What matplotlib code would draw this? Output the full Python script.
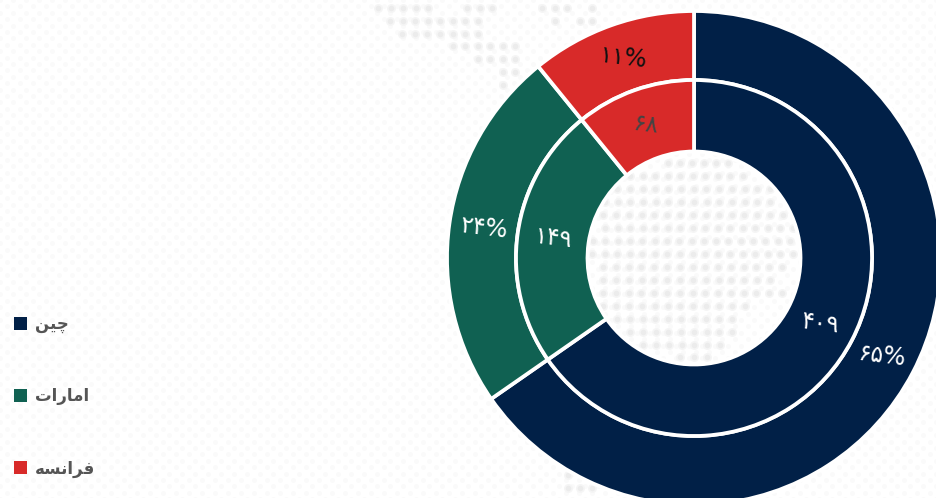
"""Double doughnut of three countries over a dotted map background."""
import matplotlib
matplotlib.use("Agg")
import matplotlib.pyplot as plt
import numpy as np
from matplotlib.patches import Patch

W, H = 936, 498

countries = ["چین", "امارات", "فرانسه"]
counts = [409, 149, 68]
shares = [65, 24, 11]
colors = ["#012047", "#106152", "#d82a29"]
outer_text_colors = ["white", "white", "#111111"]
inner_text_colors = ["white", "white", "#444444"]

# background map dots: (y, x from, x to)
map_rows = [
    (8, 378, 428), (8, 467, 492), (8, 542, 567), (8, 592, 592),
    (21, 390, 478), (21, 555, 555), (21, 580, 592),
    (34, 402, 478),
    (46, 453, 515),
    (59, 478, 515),
    (72, 503, 515),
    (85, 503, 503),
    (163, 668, 728),
    (176, 630, 743),
    (189, 617, 770),
    (202, 605, 770),
    (215, 603, 783),
    (228, 605, 793),
    (241, 593, 790),
    (254, 592, 793),
    (267, 603, 782),
    (280, 603, 770),
    (293, 603, 782),
    (306, 603, 745),
    (319, 617, 732),
    (332, 630, 732),
    (345, 643, 720),
    (357, 680, 707),
    (475, 568, 568),
    (488, 568, 592),
]

# Persian letters: first code point of the presentation forms
# order is isolated, final, initial, medial
FORMS = {"چ": 0xFB7A, "ی": 0xFBFC, "ن": 0xFEE5, "م": 0xFEE1, "ت": 0xFE95,
         "ف": 0xFED1, "س": 0xFEB1, "ه": 0xFEE9, "ا": 0xFE8D, "ر": 0xFEAD}
NON_JOINING = "ار"


def shape(word):
    # matplotlib has no shaping or bidi, so join the letters and reverse them
    out = []
    for i, ch in enumerate(word):
        prev_joins = i > 0 and word[i - 1] not in NON_JOINING
        next_joins = i < len(word) - 1 and ch not in NON_JOINING
        form = {(False, False): 0, (True, False): 1,
                (False, True): 2, (True, True): 3}[(prev_joins, next_joins)]
        out.append(chr(FORMS[ch] + form))
    return "".join(reversed(out))


def fa_digits(value):
    return str(value).translate(str.maketrans("0123456789", "۰۱۲۳۴۵۶۷۸۹"))


fig = plt.figure(figsize=(W / 100, H / 100), dpi=100)
plt.rcParams["font.family"] = "DejaVu Sans"

# background in pixel coordinates
bg = fig.add_axes([0, 0, 1, 1])
bg.set_xlim(0, W)
bg.set_ylim(H, 0)
bg.axis("off")

xs, ys = np.meshgrid(np.arange(0, W + 13, 13.0), np.arange(0, H + 7, 6.4))
xs[1::2] += 6.5
bg.scatter(xs.ravel(), ys.ravel(), s=13, color="#fafafa", linewidths=0)

mx, my = [], []
for y, x0, x1 in map_rows:
    n = int(round((x1 - x0) / 12.65)) + 1
    mx.extend(np.linspace(x0, x1, n))
    my.extend([y] * n)
# soft halo and a small core, the original dots are blurred
bg.scatter(mx, my, s=42, color="#f5f5f5", linewidths=0)
bg.scatter(mx, my, s=16, color="#ececec", linewidths=0)

# the doughnut axes: one data unit is one pixel, centre at (694, 258)
cx, cy, box = 694, 258, 260
ax = fig.add_axes([(cx - box) / W, 1 - (cy + box) / H, 2 * box / W, 2 * box / H])

edge = {"edgecolor": "white", "linewidth": 2.7}
outer, _ = ax.pie(counts, radius=247, colors=colors, startangle=90, counterclock=False,
                  wedgeprops=dict(width=69, **edge), frame=True)
inner, _ = ax.pie(counts, radius=178, colors=colors, startangle=90, counterclock=False,
                  wedgeprops=dict(width=71.5, **edge), frame=True)
ax.set_xlim(-box, box)
ax.set_ylim(-box, box)
ax.axis("off")


def ring_labels(wedges, texts, radius, text_colors):
    for w, t, c in zip(wedges, texts, text_colors):
        a = np.deg2rad((w.theta1 + w.theta2) / 2)
        ax.text(radius * np.cos(a), radius * np.sin(a), t, color=c, fontsize=17,
                ha="center", va="center", rotation=-7)


ring_labels(outer, [fa_digits(s) + "%" for s in shares], 212, outer_text_colors)
ring_labels(inner, [fa_digits(c) for c in counts], 142, inner_text_colors)

handles = [Patch(facecolor=c, edgecolor="none") for c in colors]
leg = bg.legend(handles, [shape(c) for c in countries], loc="upper left",
                bbox_to_anchor=(14 / W, 1 - 315 / H), bbox_transform=fig.transFigure,
                frameon=False, borderpad=0, borderaxespad=0,
                handlelength=0.8, handleheight=0.8, handletextpad=0.45, labelspacing=3.25,
                prop={"weight": "bold", "size": 12})
for t in leg.get_texts():
    t.set_color("#555555")

fig.savefig("out.png", dpi=100)
